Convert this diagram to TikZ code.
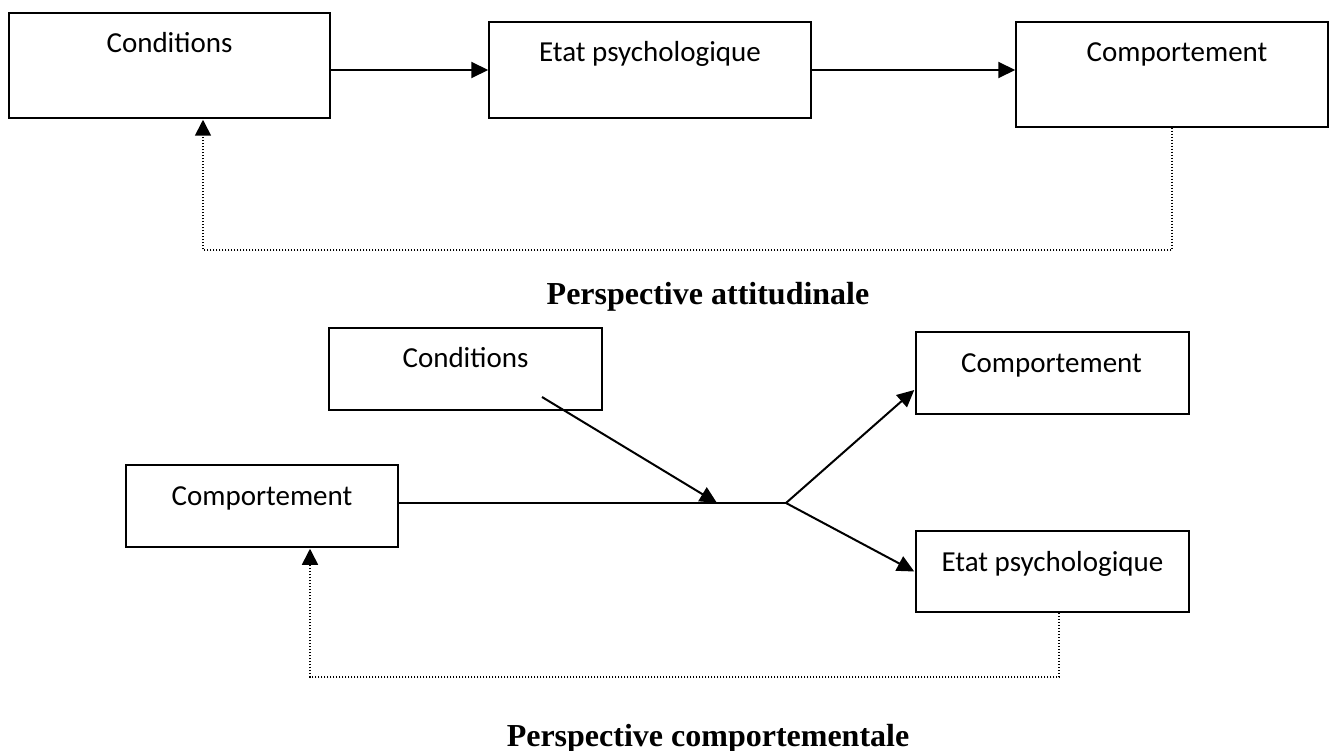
\documentclass[tikz,border=0pt]{standalone}
\usepackage{fontspec}
\setmainfont{Carlito}
\newfontfamily\titlefont{Liberation Serif}
\usetikzlibrary{arrows.meta,calc}

\begin{document}
\begin{tikzpicture}[x=1pt,y=-1pt,
  box/.style={draw=black,line width=1.5pt,fill=white,inner sep=0pt},
  lbl/.style={anchor=base,inner sep=0pt,font=\fontsize{29}{34}\selectfont},
  arr/.style={line width=2pt,-{Triangle[length=17pt,width=16pt]}},
  plain/.style={line width=1.5pt},
  fb/.style={line width=1.6pt,dash pattern=on 1.6pt off 1.4pt,
             -{Triangle[length=16pt,width=16pt]}},
  heading/.style={anchor=base,inner sep=0pt,
                  font=\titlefont\bfseries\fontsize{32}{38}\selectfont}]
\useasboundingbox (0,0) rectangle (1333,751);

% ---------- attitudinal perspective ----------
\node[box,minimum width=321pt,minimum height=105pt] (c1) at (169.5,65.5) {};
\node[box,minimum width=322pt,minimum height=96pt]  (e1) at (650,70) {};
\node[box,minimum width=312pt,minimum height=105pt] (p1) at (1172,74.5) {};
\node[lbl] (c1t) at ($(c1.north)+(0,40)$) {Conditions};
\node[lbl] (e1t) at ($(e1.north)+(0,40)$) {Etat psychologique};
\node[lbl] (p1t) at ($(p1.north)+(5,40)$) {Comportement};

\draw[arr] (c1.east |- e1.west) -- (e1.west);
\draw[arr] (e1.east) -- (e1.east -| p1.west);
\coordinate (c1in) at ($(c1.south)+(33.5,1)$);
\draw[fb] (p1.south) |- (203,250) -- (c1in);

\node[heading] (h1) at (708,305) {Perspective attitudinale};

% ---------- behavioural perspective ----------
\node[box,minimum width=273pt,minimum height=82pt] (c2) at (465.5,369) {};
\node[box,minimum width=273pt,minimum height=82pt] (pr) at (1052.5,373) {};
\node[box,minimum width=272pt,minimum height=82pt] (pl) at (262,506) {};
\node[box,minimum width=273pt,minimum height=81pt] (e2) at (1052.5,571.5) {};
\node[lbl] (c2t) at ($(c2.north)+(0,40)$) {Conditions};
\node[lbl] (prt) at ($(pr.north)+(-1,41)$) {Comportement};
\node[lbl] (plt) at ($(pl.north)+(0,41)$) {Comportement};
\node[lbl] (e2t) at ($(e2.north)+(0,41)$) {Etat psychologique};

\coordinate (j)  at (786,503);
\coordinate (cs) at (542,397);
\coordinate (m)  at (717,503);
\draw[plain] (pl.east |- j) -- (j);
\draw[arr] (cs) -- (m);
\draw[arr] (j) -- ($(pr.west)+(-1,17)$);
\draw[arr] (j) -- ($(e2.west)+(-1,0)$);
\coordinate (e2out) at ($(e2.south)+(6.5,0)$);
\coordinate (plin)  at ($(pl.south)+(48,1)$);
\draw[fb] (e2out) |- (310,677) -- (plin);

\node[heading] (h2) at (708,746) {Perspective comportementale};
\end{tikzpicture}
\end{document}
